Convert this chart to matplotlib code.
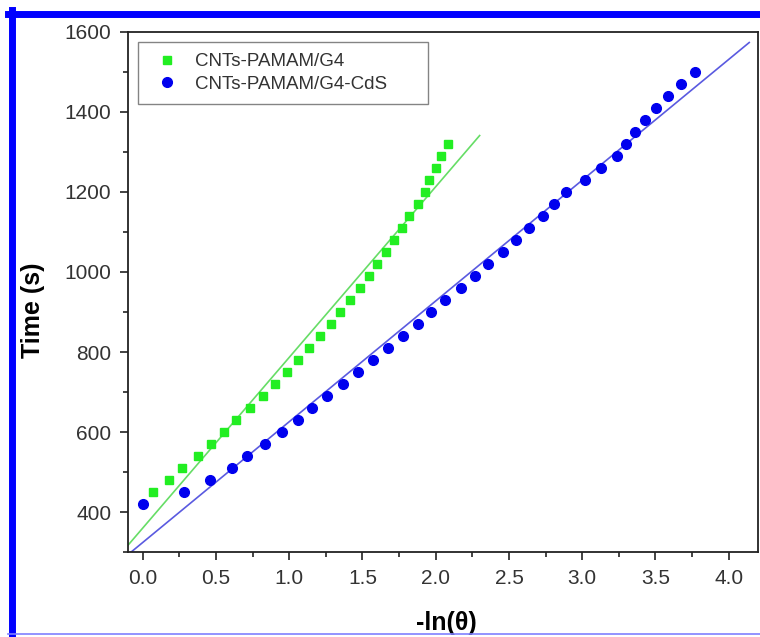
import numpy as np
import matplotlib
matplotlib.use("Agg")
import matplotlib.pyplot as plt
from matplotlib.lines import Line2D
from matplotlib.ticker import MultipleLocator

plt.rcParams['font.family'] = ['Liberation Sans', 'DejaVu Sans']

# CNTs-PAMAM/G4 (green squares)
g4_x = [0.07, 0.177, 0.268, 0.378, 0.469, 0.555, 0.64, 0.735, 0.82, 0.90,
        0.985, 1.063, 1.138, 1.21, 1.284, 1.35, 1.413, 1.486, 1.545, 1.60,
        1.659, 1.716, 1.773, 1.815, 1.878, 1.925, 1.955, 2.005, 2.039, 2.084]
g4_t = [450, 480, 510, 540, 570, 600, 630, 660, 690, 720,
        750, 780, 810, 840, 870, 900, 930, 960, 990, 1020,
        1050, 1080, 1110, 1140, 1170, 1200, 1230, 1260, 1290, 1320]

# CNTs-PAMAM/G4-CdS (blue circles)
cds_x = [0.0, 0.28, 0.46, 0.61, 0.71, 0.835, 0.95, 1.06, 1.155, 1.26,
         1.37, 1.47, 1.57, 1.675, 1.78, 1.88, 1.97, 2.065, 2.175, 2.27,
         2.355, 2.46, 2.545, 2.635, 2.735, 2.81, 2.89, 3.02, 3.125, 3.235,
         3.30, 3.36, 3.43, 3.505, 3.585, 3.675, 3.77]
cds_t = [420, 450, 480, 510, 540, 570, 600, 630, 660, 690,
         720, 750, 780, 810, 840, 870, 900, 930, 960, 990,
         1020, 1050, 1080, 1110, 1140, 1170, 1200, 1230, 1260, 1290,
         1320, 1350, 1380, 1410, 1440, 1470, 1500]

# x span of the linear fits
g4_fit_range = (-0.1, 2.3)
cds_fit_range = (-0.1, 4.14)

fig = plt.figure(figsize=(7.6, 6.37), dpi=100)
ax = fig.add_axes([0.1684, 0.1334, 0.8290, 0.8164])

# linear fits
for xs, ts, rng, c in [(g4_x, g4_t, g4_fit_range, '#66dd66'),
                       (cds_x, cds_t, cds_fit_range, '#5a5ae0')]:
    k, b = np.polyfit(xs, ts, 1)
    xf = np.array(rng)
    ax.plot(xf, k * xf + b, color=c, lw=1.2, zorder=2)

ax.plot(g4_x, g4_t, 's', color='#22ee22', ms=6, mec='#22ee22',
        label='CNTs-PAMAM/G4', zorder=3)
ax.plot(cds_x, cds_t, 'o', color='#0000ee', ms=7, mec='#0000ee',
        label='CNTs-PAMAM/G4-CdS', zorder=3)

ax.set_xlim(-0.1, 4.2)
ax.set_ylim(300, 1600)
ax.xaxis.set_major_locator(MultipleLocator(0.5))
ax.xaxis.set_minor_locator(MultipleLocator(0.25))
ax.yaxis.set_major_locator(MultipleLocator(200))
ax.yaxis.set_minor_locator(MultipleLocator(100))
ax.tick_params(which='both', direction='out', top=False, right=False,
               colors='#222222', width=1.2)
ax.tick_params(which='major', length=6, labelsize=15, labelcolor='#333333')
ax.tick_params(axis='x', which='major', pad=6)
ax.tick_params(axis='y', which='major', pad=6)
ax.tick_params(which='minor', length=3.5)
for s in ax.spines.values():
    s.set_linewidth(1.3)
    s.set_color('#222222')

ax.set_xlabel('-ln(θ)', fontsize=18, fontweight='bold')
ax.set_ylabel('Time (s)', fontsize=18, fontweight='bold')
ax.xaxis.set_label_coords(0.506, -0.113)
ax.yaxis.set_label_coords(-0.132, 0.465)

leg = ax.legend(loc='upper left', bbox_to_anchor=(0.016, 0.5, 0.46, 0.481),
                mode='expand', borderaxespad=0, fontsize=13.5, frameon=True,
                fancybox=False, edgecolor='#666666', borderpad=0.6,
                labelspacing=0.3, handlelength=1.9, handletextpad=0.55,
                numpoints=1)
leg.get_frame().set_linewidth(1.0)
for t in leg.get_texts():
    t.set_color('#333333')

# blue frame around the figure
fig.add_artist(Line2D([8 / 760, 1], [1 - 13.5 / 637] * 2, color='#0000ff',
                      lw=5, transform=fig.transFigure))
fig.add_artist(Line2D([11.5 / 760] * 2, [1 - 634 / 637, 1 - 10 / 637],
                      color='#0000ff', lw=5, transform=fig.transFigure))
fig.add_artist(Line2D([8 / 760, 1], [1 - 634 / 637] * 2, color='#8080ff',
                      lw=1.2, transform=fig.transFigure))

fig.savefig('out.png', dpi=100)
